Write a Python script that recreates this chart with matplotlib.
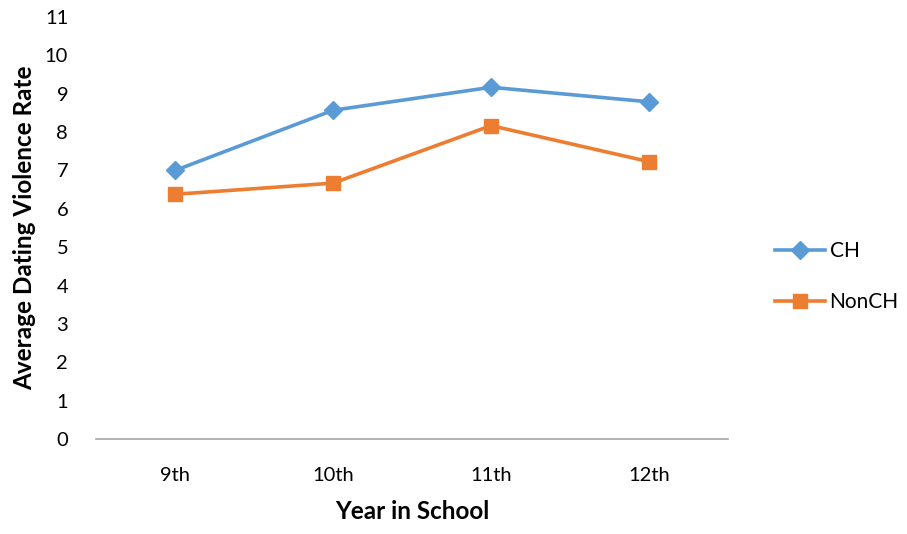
import matplotlib
matplotlib.use("Agg")
import matplotlib.pyplot as plt
import numpy as np

plt.rcParams['font.family'] = ['Lato', 'DejaVu Sans']

years = ['9th', '10th', '11th', '12th']
ch = [7.0, 8.57, 9.17, 8.79]
non_ch = [6.38, 6.67, 8.17, 7.23]

fig = plt.figure(figsize=(9.07, 5.34), dpi=100)
ax = fig.add_axes([0.1058, 0.178, 0.697, 0.79])

x = np.arange(len(years))
ax.plot(x, ch, color='#5B9BD5', lw=2.6, marker='D', markersize=9.5, label='CH')
ax.plot(x, non_ch, color='#ED7D31', lw=2.6, marker='s', markersize=9.5, label='NonCH')

ax.set_xlim(-0.5, 3.5)
ax.set_ylim(0, 11)
ax.set_yticks(range(0, 12))
ax.set_xticks(x)
ax.set_xticklabels(years)
ax.tick_params(axis='both', length=0, labelsize=14.5, colors='black')
ax.tick_params(axis='x', pad=20)
ax.tick_params(axis='y', pad=20)

for side in ['top', 'right', 'left']:
    ax.spines[side].set_visible(False)
ax.spines['bottom'].set_color('#A6A6A6')
ax.spines['bottom'].set_linewidth(1.2)

ax.set_xlabel('Year in School', fontsize=17.5, fontweight='bold', labelpad=12)
ax.set_ylabel('Average Dating Violence Rate', fontsize=17.5, fontweight='bold', labelpad=6)

ax.legend(loc='center left', bbox_to_anchor=(1.045, 0.385), frameon=False,
          fontsize=15, handlelength=2.4, labelspacing=1.5, handletextpad=0.2)

fig.savefig('out.png', dpi=100)
